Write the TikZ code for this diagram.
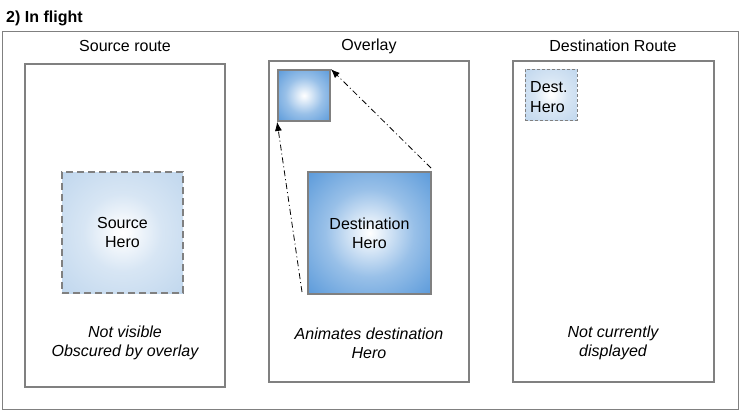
\documentclass[tikz,border=0pt]{standalone}
\usepackage{fontspec}
\setmainfont{Liberation Sans}
\usetikzlibrary{arrows.meta}
\definecolor{frame}{HTML}{808080}
\definecolor{heroblue}{HTML}{3A86D3}
\definecolor{palehero}{HTML}{C2D8EE}
\pgfdeclareradialshading{herosolid}{\pgfpoint{0bp}{0bp}}{color(0bp)=(white); color(3bp)=(white!92!heroblue); color(18bp)=(heroblue!52!white); color(36bp)=(heroblue!84!white); color(52bp)=(heroblue); color(80bp)=(heroblue)}
\pgfdeclareradialshading{heroghost}{\pgfpoint{0bp}{0bp}}{color(0bp)=(white); color(3bp)=(white!92!palehero); color(16bp)=(palehero!65!white); color(34bp)=(palehero); color(80bp)=(palehero)}
\begin{document}
\begin{tikzpicture}[x=1pt,y=-1pt,
  panel/.style={draw=frame,line width=1.6pt},
  lbl/.style={font=\fontsize{16}{19}\selectfont,align=center,inner sep=0},
  note/.style={font=\fontsize{16}{19}\selectfont\itshape,align=center,inner sep=0},
  solidhero/.style={draw=frame,line width=1.8pt,shading=herosolid},
  ghosthero/.style={draw=frame,line width=2pt,dash pattern=on 7pt off 4pt,shading=heroghost},
  ghostsmall/.style={draw=frame,line width=0.8pt,dash pattern=on 3pt off 2pt,shading=heroghost},
  flight/.style={draw=black,line width=0.8pt,dash pattern=on 6pt off 3pt on 1pt off 3pt,-{Latex[length=9pt,width=7pt]}}
]
\useasboundingbox (0,0) rectangle (741,410);
\fill[white] (0,0) rectangle (741,410);
\node[anchor=base west,inner sep=0,font=\fontsize{16}{19}\selectfont\bfseries] (title) at (6,22) {2) In flight};
\draw[draw=frame,line width=0.9pt] (2,31) rectangle (738,409);
% panels
\draw[panel] (25,64) rectangle (225,387);
\draw[panel] (269,61) rectangle (469,382);
\draw[panel] (513,61) rectangle (714,382);
\node[lbl] (t1) at (125,46) {Source route};
\node[lbl] (t2) at (369,46) {Overlay};
\node[lbl] (t3) at (613,46) {Destination Route};
% source hero
\node[ghosthero,minimum width=121pt,minimum height=121pt,inner sep=0] (src) at (122.5,232.5) {};
\node[lbl,text width=100pt] (srct) at (src.center) {Source\\Hero};
% overlay
\node[solidhero,minimum width=52pt,minimum height=51pt,inner sep=0] (fly) at (304,95.5) {};
\node[solidhero,minimum width=123pt,minimum height=122pt,inner sep=0] (dst) at (369.5,233) {};
\node[lbl,text width=110pt] (dstt) at (dst.center) {Destination\\Hero};
\coordinate (a1) at (302,292);
\coordinate (a2) at (431,168);
\draw[flight] (a1) -- (fly.south west);
\draw[flight] (a2) -- (fly.north east);
% destination
\node[ghostsmall,minimum width=52pt,minimum height=51pt,inner sep=0] (dh) at (551,94.5) {};
\node[lbl,align=left,anchor=west,font=\fontsize{16}{20}\selectfont] (dht) at (530,97) {Dest.\\Hero};
% notes
\node[note] (n1) at (125,343) {Not visible\\Obscured by overlay};
\node[note] (n2) at (369,343) {Animates destination\\Hero};
\node[note] (n3) at (613,343) {Not currently\\displayed};
\end{tikzpicture}
\end{document}
